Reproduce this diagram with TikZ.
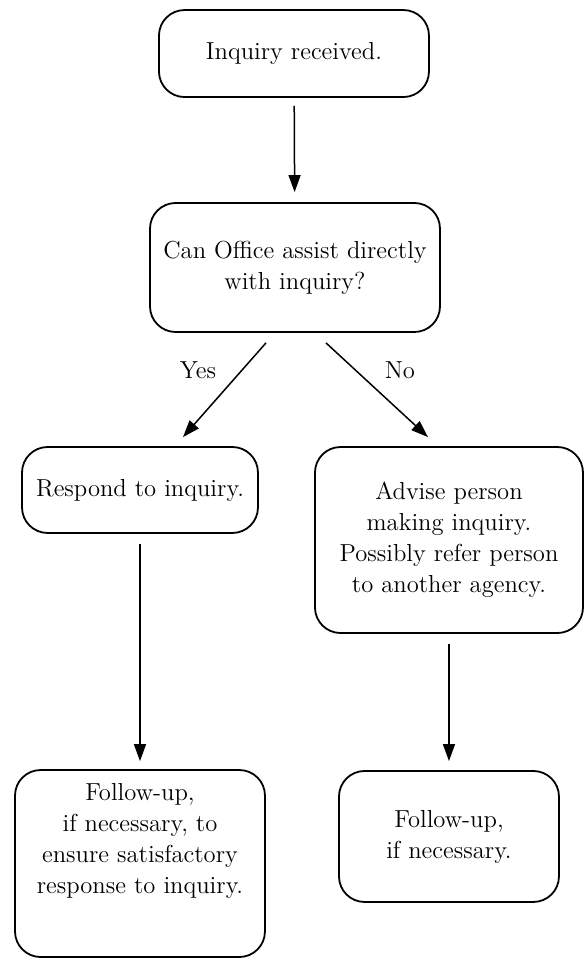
\documentclass[tikz,border=0pt]{standalone}
\usetikzlibrary{arrows.meta}
\begin{document}
\begin{tikzpicture}[every node/.style={font=\fontsize{12.3}{15.5}\selectfont},
    box/.style={draw, line width=0.9pt, rounded corners=0.45cm, align=center, inner sep=0pt},
    arr/.style={line width=0.75pt, -{Triangle[length=8.5pt,width=6pt]}}]
    \useasboundingbox (0,0) rectangle (10.263,16.853);

    % top of the chart
    \node[box, minimum width=4.745cm, minimum height=1.529cm] (recv) at (5.166,15.912) {Inquiry received.};
    \node[box, minimum width=5.096cm, minimum height=2.267cm] (ask) at (5.184,12.152) {Can Office assist directly\\ with inquiry?};

    % the two branches
    \node[box, minimum width=4.147cm, minimum height=1.511cm] (resp) at (2.460,8.242) {Respond to inquiry.};
    \node[box, minimum width=4.710cm, minimum height=3.269cm] (advise) at (7.890,7.363) {Advise person\\ making inquiry.\\ Possibly refer person\\ to another agency.};
    \node (yeslbl) at (3.479,10.351) {Yes};
    \node (nolbl) at (7.029,10.351) {No};

    % follow-up boxes
    \node[box, minimum width=4.393cm, minimum height=3.286cm] (follow) at (2.460,1.678) {};
    \node[align=center] (followtxt) at (2.460,2.08) {Follow-up,\\ if necessary, to\\ ensure satisfactory\\ response to inquiry.};
    \node[box, minimum width=3.866cm, minimum height=2.302cm] (followb) at (7.890,2.153) {Follow-up,\\ if necessary.};

    % arrows
    \draw[arr, shorten <=4pt, shorten >=5pt] (recv) -- (ask);
    \draw[arr] ([xshift=-14.5pt,yshift=-5pt]ask.south) -- ([xshift=21.5pt,yshift=4.5pt]resp.north);
    \draw[arr] ([xshift=15.5pt,yshift=-5pt]ask.south) -- ([xshift=-10.5pt,yshift=4.5pt]advise.north);
    \draw[arr, shorten <=5pt, shorten >=4pt] (resp) -- (follow);
    \draw[arr, shorten <=5pt, shorten >=4.5pt] (advise) -- (followb);
\end{tikzpicture}
\end{document}
